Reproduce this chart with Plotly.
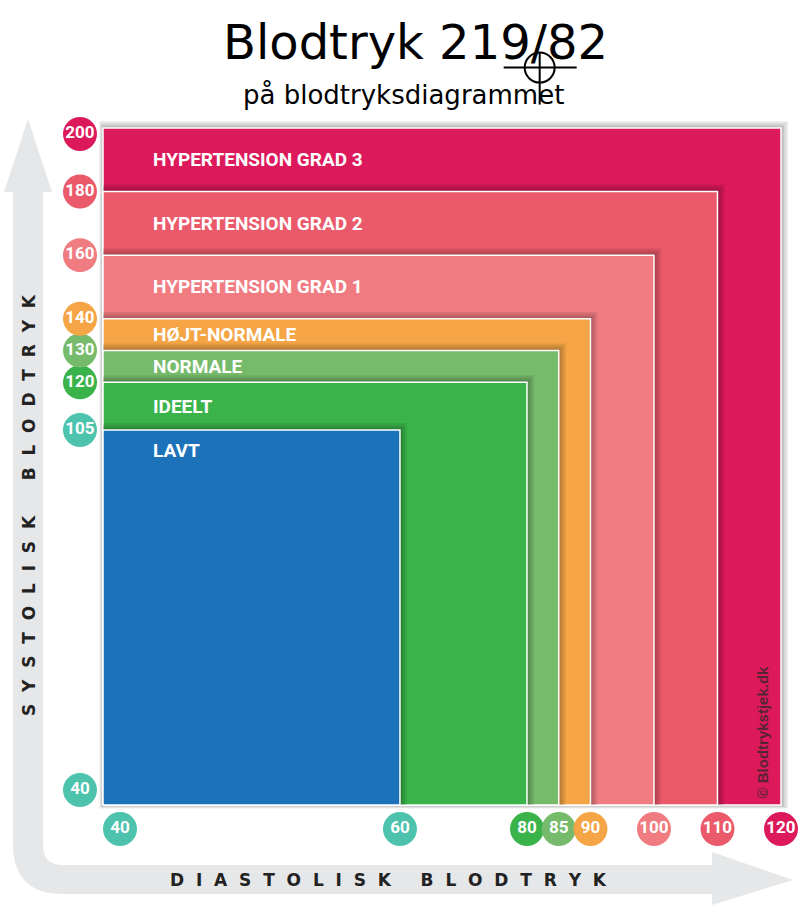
import numpy as np
import plotly.graph_objects as go

# blodtryks-zoner (fra inderst til yderst)
zones = ["LAVT", "IDEELT", "NORMALE", "HØJT-NORMALE",
         "HYPERTENSION GRAD 1", "HYPERTENSION GRAD 2", "HYPERTENSION GRAD 3"]
sys_upper = [105, 120, 130, 140, 160, 180, 200]
dia_upper = [60, 80, 85, 90, 100, 110, 120]
zone_colors = ["#1C72B9", "#3AB44A", "#76BA6B", "#F5A545",
               "#F07C82", "#EB5A6B", "#DC195A"]

# akse-tal (cirkler)
dia_ticks = [40, 60, 80, 85, 90, 100, 110, 120]
dia_tick_colors = ["#4DC3AE", "#4DC3AE", "#3AB44A", "#76BA6B", "#F5A545",
                   "#F07C82", "#EB5A6B", "#DC195A"]
sys_ticks = [40, 105, 120, 130, 140, 160, 180, 200]
sys_tick_colors = ["#4DC3AE", "#4DC3AE", "#3AB44A", "#76BA6B", "#F5A545",
                   "#F07C82", "#EB5A6B", "#DC195A"]

# maaling
reading_sys = 219
reading_dia = 82

# skalaen er ikke lineaer: to stykker pr. akse
X_BREAKS, X_SPANS = [40, 60, 120], [0, 0.438, 1.0]
Y_BREAKS, Y_SPANS = [40, 105, 200], [0, 0.554, 1.0]

W, H = 800, 908
X0_PX, X1_PX = 103, 781      # venstre / hoejre kant af diagrammet (px)
Y0_PX, Y1_PX = 805, 128      # bund / top (px fra toppen)
XU = 1.0 / (X1_PX - X0_PX)
YU = 1.0 / (Y0_PX - Y1_PX)

NARROW = "Liberation Sans Narrow, Arial Narrow, Roboto, sans-serif"


def scale(v, breaks, spans):
    v = float(v)
    if v > breaks[-1]:
        slope = (spans[-1] - spans[-2]) / (breaks[-1] - breaks[-2])
        return spans[-1] + (v - breaks[-1]) * slope
    return float(np.interp(v, breaks, spans))


def sx(v):
    return scale(v, X_BREAKS, X_SPANS)


def sy(v):
    return scale(v, Y_BREAKS, Y_SPANS)


def px(x):
    return x / W


def py(y):
    return 1 - y / H


def rect(x0, y0, x1, y1):
    return [x0, x1, x1, x0, x0], [y0, y0, y1, y1, y0]


fig = go.Figure()

# zoner, stoerst foerst, med skygge paa top og hoejre side
order = list(range(len(zones)))[::-1]
for n, i in enumerate(order):
    x1 = sx(dia_upper[i])
    y1 = sy(sys_upper[i])
    for d in [7, 5, 3, 1.5]:
        if n == 0:
            xs, ys = rect(-d * 0.5 * XU, -d * 0.5 * YU, x1 + d * XU, y1 + d * YU)
        else:
            xs, ys = rect(0, 0, x1 + d * XU, y1 + d * YU)
        fig.add_trace(go.Scatter(x=xs, y=ys, fill="toself", mode="lines",
                                 fillcolor="rgba(0,0,0,0.08)",
                                 line=dict(width=0), hoverinfo="skip"))
    xs, ys = rect(0, 0, x1, y1)
    fig.add_trace(go.Scatter(x=xs, y=ys, fill="toself", mode="lines",
                             fillcolor=zone_colors[i],
                             line=dict(color="white", width=1.5),
                             name=zones[i], hoverinfo="name"))

# tekst i zonerne
annotations = []
for i, z in enumerate(zones):
    if i == 0:
        yy, ysh = sy(sys_upper[0]), -21
    else:
        yy, ysh = (sy(sys_upper[i - 1]) + sy(sys_upper[i])) / 2, 0
    annotations.append(dict(x=0, y=yy, xref="x", yref="y", xshift=48, yshift=ysh,
                            xanchor="left", yanchor="middle", showarrow=False,
                            text="<b>" + z + "</b>",
                            font=dict(family=NARROW, size=19, color="white")))

# tal-cirkler
dx = [sx(v) for v in dia_ticks]
dx[0] += 17 * XU
fig.add_trace(go.Scatter(
    x=dx, y=[-24 * YU] * len(dia_ticks), mode="markers+text",
    marker=dict(size=34, color=dia_tick_colors),
    text=["<b>%d</b>" % v for v in dia_ticks], textposition="middle center",
    textfont=dict(family=NARROW, size=17, color="white"),
    cliponaxis=False, hoverinfo="skip"))

sy_list = [sy(v) for v in sys_ticks]
sy_list[0] += 15 * YU
sy_list[-1] -= 6 * YU
fig.add_trace(go.Scatter(
    x=[-23 * XU] * len(sys_ticks), y=sy_list, mode="markers+text",
    marker=dict(size=34, color=sys_tick_colors),
    text=["<b>%d</b>" % v for v in sys_ticks], textposition="middle center",
    textfont=dict(family=NARROW, size=17, color="white"),
    cliponaxis=False, hoverinfo="skip"))

# grå pile langs akserne
arrow = ("M {} L {} L {} L {} Q {} {} L {} L {} L {} L {} L {} L {} Q {} {} L {} L {} Z"
         .format(*["{},{}".format(px(a), py(b)) for a, b in [
             (28, 119), (52, 192), (43, 192), (43, 845), (43, 865), (63, 865),
             (712, 865), (712, 852), (793, 880), (712, 905), (712, 894),
             (63, 894), (13, 894), (13, 844), (13, 192), (4, 192)]]))
shapes = [dict(type="path", xref="paper", yref="paper", path=arrow,
               fillcolor="#E6E7E8", line=dict(width=0), layer="below")]

# sigtekorn for maalingen
cx, cy = sx(reading_dia), sy(reading_sys)
cross = dict(xref="x", yref="y", xsizemode="pixel", ysizemode="pixel",
             xanchor=cx, yanchor=cy, line=dict(color="black", width=2))
shapes.append(dict(type="circle", x0=-15, x1=15, y0=-15, y1=15, **cross))
shapes.append(dict(type="line", x0=-36, x1=37, y0=0, y1=0, **cross))
shapes.append(dict(type="line", x0=0, x1=0, y0=15, y1=-37, **cross))

# titler
annotations += [
    dict(x=px(415), y=py(42), xref="paper", yref="paper", showarrow=False,
         xanchor="center", yanchor="middle",
         text="Blodtryk %d/%d" % (reading_sys, reading_dia),
         font=dict(family="DejaVu Sans", size=48, color="black")),
    dict(x=px(403), y=py(95), xref="paper", yref="paper", showarrow=False,
         xanchor="center", yanchor="middle",
         text="på blodtryksdiagrammet",
         font=dict(family="DejaVu Sans", size=26, color="black")),
    dict(x=px(29), y=py(505), xref="paper", yref="paper", showarrow=False,
         xanchor="center", yanchor="middle", textangle=-90,
         text="<b>" + "\u00a0\u00a0".join("SYSTOLISK") + "\u00a0" * 6
              + "\u00a0\u00a0".join("BLODTRYK") + "</b>",
         font=dict(family="DejaVu Sans", size=17, color="#222222")),
    dict(x=px(388), y=py(880), xref="paper", yref="paper", showarrow=False,
         xanchor="center", yanchor="middle",
         text="<b>" + "\u00a0\u00a0".join("DIASTOLISK") + "\u00a0" * 5
              + "\u00a0\u00a0".join("BLODTRYK") + "</b>",
         font=dict(family="DejaVu Sans", size=17, color="#222222")),
    dict(x=sx(120), y=0, xref="x", yref="y", xshift=-19, yshift=4,
         xanchor="center", yanchor="bottom", showarrow=False, textangle=-90,
         text="<b>© Blodtrykstjek.dk</b>",
         font=dict(family="Liberation Sans, Arial, sans-serif", size=15,
                   color="rgba(40,40,40,0.75)")),
]

fig.update_layout(
    width=W, height=H,
    margin=dict(l=0, r=0, t=0, b=0),
    paper_bgcolor="white", plot_bgcolor="white",
    showlegend=False,
    xaxis=dict(visible=False, range=[-X0_PX * XU, (W - X0_PX) * XU], fixedrange=True),
    yaxis=dict(visible=False, range=[-(H - Y0_PX) * YU, Y0_PX * YU], fixedrange=True),
    shapes=shapes,
    annotations=annotations,
)

# siden har 8px margin som standard - fjern den, saa figuren fylder vinduet
fig.write_html("out.html", config={"displayModeBar": False},
               post_script="document.body.style.margin='0px';")
